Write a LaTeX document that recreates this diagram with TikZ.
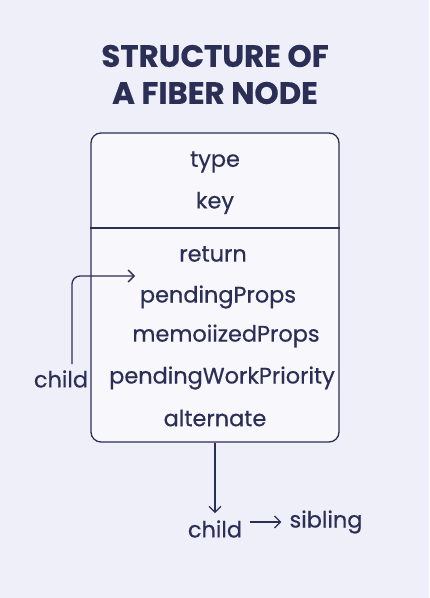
\documentclass[tikz,border=0pt]{standalone}
\usepackage{fontspec}
\setmainfont{Poppins}[FakeBold=0.5]
\usetikzlibrary{arrows.meta}
\definecolor{bgcol}{HTML}{EFEFF9}
\definecolor{boxcol}{HTML}{F7F7FC}
\definecolor{ink}{HTML}{2B2F55}
\tikzset{
  field/.style={text=ink,inner sep=0pt,font=\fontsize{22.5}{26}\selectfont},
  arr/.style={draw=ink,line width=1.3pt,-{Straight Barb[length=6pt,width=12pt]}}
}
\begin{document}
\begin{tikzpicture}[x=1bp,y=-1bp]
\fill[bgcol] (0,0) rectangle (429,598);
\node[text=ink,font=\fontsize{31}{36}\bfseries\selectfont] (title1) at (215,56) {STRUCTURE OF};
\node[text=ink,font=\fontsize{31}{36}\bfseries\selectfont] (title2) at (215,93) {A FIBER NODE};
\node[draw=ink,fill=boxcol,line width=1.3pt,rounded corners=10bp,minimum width=248bp,minimum height=309bp] (fiber) at (215,287.5) {};
\draw[ink,line width=1.3pt] (fiber.west |- 0,228) -- (fiber.east |- 0,228);
\node[field] (type) at (215,162) {type};
\node[field] (key) at (215,203) {key};
\node[field] (return) at (213,254) {return};
\node[field] (pprops) at (218,297) {pendingProps};
\node[field] (mprops) at (226,336) {memoiizedProps};
\node[field] (prio) at (222,378) {pendingWorkPriority};
\node[field] (alt) at (215,418) {alternate};
\node[field] (childl) at (61,379) {child};
\coordinate (tip) at (135,276);
\draw[arr,rounded corners=8bp] ([xshift=11bp,yshift=6bp]childl.north) |- (tip);
\node[field] (childb) at (215,529) {child};
\node[field] (sib) at (326,522) {sibling};
\draw[arr] (fiber.south) -- ([yshift=7bp]childb.north);
\draw[arr] ([xshift=8bp]childb.east |- sib) -- ([xshift=-8bp]sib.west);
\end{tikzpicture}
\end{document}
